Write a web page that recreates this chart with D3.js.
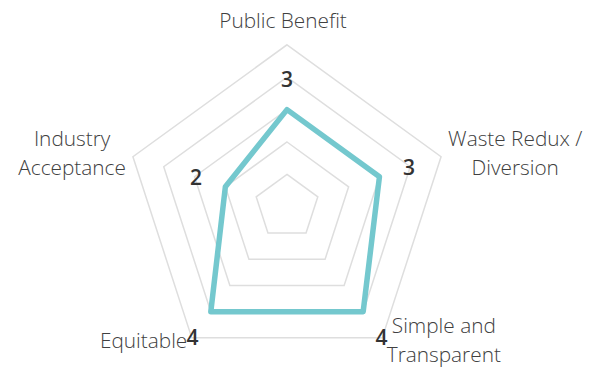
<!DOCTYPE html>
<html>
<head>
<meta charset="utf-8">
<script src="https://cdn.jsdelivr.net/npm/d3@7"></script>
<style>
  body { margin: 0; background: #fff; }
  .cat { font-family: "Open Sans", sans-serif; font-size: 20.8px; font-weight: 300; fill: #404040; }
  .val { font-family: "Open Sans", sans-serif; font-size: 21px; font-weight: 600; fill: #333; }
</style>
</head>
<body>
<div class="container"></div>
<script>
// chart data
var categories = ["Public Benefit", "Waste Redux / Diversion", "Simple and Transparent", "Equitable", "Industry Acceptance"];
var labelLines = [["Public Benefit"], ["Waste Redux /", "Diversion"], ["Simple and", "Transparent"], ["Equitable"], ["Industry", "Acceptance"]];
var scores = [3, 3, 4, 4, 2];
var gridLevels = [1, 2, 3, 4, 5];

const WIDTH = 592;
const HEIGHT = 369;
const CX = 287;
const CY = 206.8;
const RADIUS = 162;

var svg = d3.select('.container').append('svg')
  .attr('width', WIDTH)
  .attr('height', HEIGHT);

var rScale = d3.scaleLinear()
  .domain([0, 5])
  .range([0, RADIUS]);

var angle = function(i){ return i * 2 * Math.PI / categories.length; };
var px = function(i, r){ return r * Math.sin(angle(i)); };
var py = function(i, r){ return -r * Math.cos(angle(i)); };

var g = svg.append('g')
  .attr('transform', 'translate(' + CX + ',' + CY + ')');

// pentagon grid
var ring = d3.lineRadial()
  .angle(function(d){ return d.a; })
  .radius(function(d){ return d.r; })
  .curve(d3.curveLinearClosed);

g.selectAll('path.grid')
  .data(gridLevels)
  .enter().append('path')
  .attr('class', 'grid')
  .attr('d', function(lv){
    return ring(categories.map(function(c, i){ return {a: angle(i), r: rScale(lv)}; }));
  })
  .attr('fill', 'none')
  .attr('stroke', '#dedede')
  .attr('stroke-width', 1.5);

// series
g.append('path')
  .datum(scores)
  .attr('d', ring(scores.map(function(v, i){ return {a: angle(i), r: rScale(v)}; })))
  .attr('fill', 'none')
  .attr('stroke', '#74c8ce')
  .attr('stroke-width', 5.5)
  .attr('stroke-linejoin', 'round');

// value labels
g.selectAll('text.val')
  .data(scores)
  .enter().append('text')
  .attr('class', 'val')
  .attr('text-anchor', 'middle')
  .attr('dominant-baseline', 'central')
  .attr('x', function(v, i){ return px(i, rScale(v) + 31); })
  .attr('y', function(v, i){ return py(i, rScale(v) + 31); })
  .text(function(v){ return v; });

// category labels
var LINE_H = 29;
labelLines.forEach(function(lines, i){
  var vx = px(i, RADIUS), vy = py(i, RADIUS);
  var t = g.append('text')
    .attr('class', 'cat')
    .attr('text-anchor', 'middle');
  lines.forEach(function(s, k){
    t.append('tspan').attr('x', 0).attr('dy', k === 0 ? 0 : LINE_H).text(s);
  });
  var w = t.node().getBBox().width;
  var s = Math.sin(angle(i));
  var bx, by;
  if (Math.abs(s) < 0.1) {
    bx = vx - 4;
    by = vy - 17;
  } else {
    var pad = py(i, 1) > 0 ? 4.5 : 7;
    bx = vx + (s > 0 ? 1 : -1) * (w / 2 + pad);
    // first baseline so the block centers near the vertex
    var blockMid = py(i, 1) > 0 ? vy + 4 : vy - 2;
    by = blockMid + 6 - (lines.length - 1) * LINE_H / 2;
  }
  t.attr('transform', 'translate(' + bx + ',' + by + ')');
});
</script>
</body>
</html>
